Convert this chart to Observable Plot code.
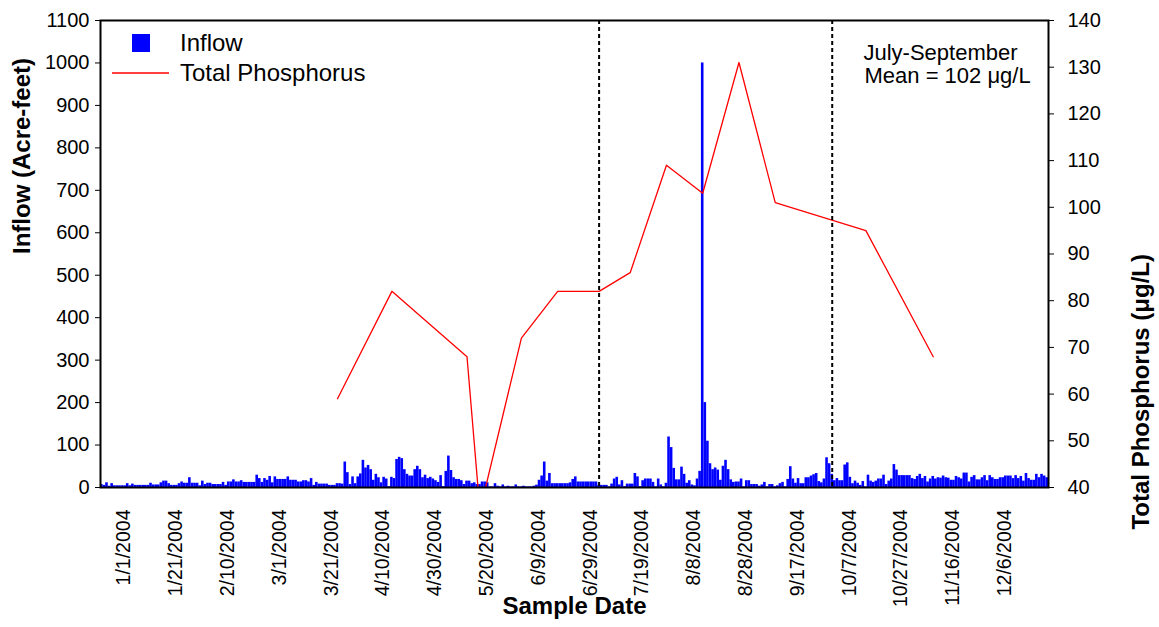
<!DOCTYPE html>
<html>
<head>
<meta charset="utf-8">
<script src="https://cdn.jsdelivr.net/npm/d3@7"></script>
<script src="https://cdn.jsdelivr.net/npm/@observablehq/plot@0.6"></script>
<style>
  html, body { margin: 0; padding: 0; background: #fff; }
</style>
</head>
<body>
<div id="chart"></div>
<script>
// ---------- DATA ----------
// Daily inflow (acre-feet), first bar on 12/21/2003
const inflowStart = "12/21/2003";
const inflowDec2003 = [7, 5, 11, 3, 9, 4, 4, 4, 4, 4, 9];
const inflowJan = [4, 8, 5, 5, 5, 5, 5, 5, 10, 6, 6, 6, 11, 15, 15, 9, 5, 5, 5, 9, 13, 10, 10, 23, 10, 10, 10, 4, 15, 7, 10];
const inflowFeb = [10, 7, 7, 7, 7, 12, 5, 13, 13, 18, 13, 13, 16, 12, 12, 12, 12, 12, 29, 21, 12, 21, 17, 26, 11, 25, 19, 19, 19];
const inflowMar = [19, 25, 17, 17, 17, 13, 13, 16, 16, 13, 21, 5, 12, 8, 8, 8, 8, 5, 5, 5, 9, 9, 8, 60, 35, 7, 25, 9, 25, 32, 64];
const inflowApr = [46, 52, 42, 17, 31, 23, 11, 24, 20, 2, 24, 21, 66, 71, 68, 42, 31, 27, 27, 42, 50, 42, 23, 29, 21, 24, 20, 16, 12, 28];
const inflowMay = [2, 38, 74, 40, 23, 19, 19, 16, 7, 15, 15, 9, 11, 7, 7, 13, 13, 11, 1.5, 1.5, 9, 3, 1.5, 6, 1.5, 3, 1.5, 1.5, 6, 1.5, 1.5];
const inflowJun = [3, 1.5, 1.5, 1.5, 3, 5.5, 17, 27, 60, 15, 33, 9, 9, 9, 9, 9, 9, 9, 11, 19, 25, 13, 13, 13, 13, 13, 13, 13, 13, 5];
const inflowJul = [5, 5, 5, 1.5, 8, 20, 24, 6, 16, 2, 8, 8, 8, 33, 25, 2, 16, 20, 20, 20, 12, 1.5, 20, 6, 1.5, 10, 119, 94, 45, 18, 18];
const inflowAug = [48, 31, 10, 16, 6, 4, 20, 38, 1000, 200, 109, 56, 42, 46, 41, 17, 50, 64, 42, 18, 12, 13, 13, 20, 1.5, 16, 16, 7, 7, 7, 3];
const inflowSep = [6, 12, 1.5, 7, 7, 1.5, 4, 9, 12, 1.5, 19, 49, 20, 10, 21, 9, 9, 23, 23, 27, 30, 33, 14, 11, 20, 70, 56, 31, 16, 21];
const inflowOct = [16, 16, 53, 58, 24, 9, 15, 10, 5, 14, 1.5, 29, 15, 12, 15, 20, 20, 29, 7, 15, 20, 54, 41, 28, 28, 28, 28, 28, 21, 19, 26];
const inflowNov = [31, 21, 26, 13, 20, 26, 20, 23, 22, 27, 23, 22, 17, 17, 26, 23, 20, 34, 34, 13, 24, 28, 18, 18, 23, 28, 16, 28, 23, 19];
const inflowDec2004 = [19, 23, 23, 27, 27, 27, 21, 28, 21, 26, 15, 33, 21, 17, 17, 31, 23, 31, 27, 23];

// Total phosphorus samples (µg/L)
const tpDates = ["3/21/2004", "4/11/2004", "5/10/2004", "5/15/2004", "5/31/2004", "6/14/2004", "6/30/2004",
                 "7/12/2004", "7/26/2004", "8/9/2004", "8/23/2004", "9/6/2004", "10/11/2004", "11/6/2004"];
const tpValues = [59, 82, 68, 35, 72, 82, 82, 86, 109, 103, 131, 101, 95, 68];

// July-September period bounds (dashed lines)
const periodBounds = ["6/30/2004", "9/28/2004"];

// Axis ticks
const xTickLabels = ["1/1/2004", "1/21/2004", "2/10/2004", "3/1/2004", "3/21/2004", "4/10/2004", "4/30/2004",
                     "5/20/2004", "6/9/2004", "6/29/2004", "7/19/2004", "8/8/2004", "8/28/2004", "9/17/2004",
                     "10/7/2004", "10/27/2004", "11/16/2004", "12/6/2004"];
const inflowTicks = [0, 100, 200, 300, 400, 500, 600, 700, 800, 900, 1000, 1100];
const tpTicks = [40, 50, 60, 70, 80, 90, 100, 110, 120, 130, 140];

// ---------- BUILD ----------
const parse = d3.utcParse("%m/%d/%Y");
const tpMin = 40, tpMax = 140, inflowMax = 1100;
const tpToY = v => (v - tpMin) * inflowMax / (tpMax - tpMin);

const inflowAll = [].concat(inflowDec2003, inflowJan, inflowFeb, inflowMar, inflowApr, inflowMay,
  inflowJun, inflowJul, inflowAug, inflowSep, inflowOct, inflowNov, inflowDec2004);
const start = parse(inflowStart);
const inflowData = inflowAll.map((v, i) => {
  const date = d3.utcDay.offset(start, i);
  return { date, x1: d3.utcHour.offset(date, -12), x2: d3.utcHour.offset(date, 12), value: v };
});
const xDomain = [inflowData[0].x1, inflowData[inflowData.length - 1].x2];

const tpData = tpDates.map((d, i) => ({ date: parse(d), y: tpToY(tpValues[i]) }));
const tickData = xTickLabels.map(s => ({ date: parse(s), label: s }));

const FONT = "Arial, 'Liberation Sans', Helvetica, sans-serif";

const chart = Plot.plot({
  width: 1159,
  height: 627,
  marginLeft: 100,
  marginRight: 111,
  marginTop: 20,
  marginBottom: 140,
  style: { fontFamily: FONT, color: "black", background: "white", overflow: "visible" },
  x: { type: "utc", domain: xDomain, axis: null },
  y: { domain: [0, inflowMax], axis: null },
  marks: [
    Plot.rectY(inflowData, { x1: "x1", x2: "x2", y: "value", fill: "#0000ff" }),
    Plot.line(tpData, { x: "date", y: "y", stroke: "#ff0000", strokeWidth: 1.3, clip: true }),
    Plot.ruleX(periodBounds.map(parse), { stroke: "black", strokeWidth: 2, strokeDasharray: "4,3" }),
    Plot.frame({ stroke: "black", strokeWidth: 2 }),
    Plot.axisY(inflowTicks, { anchor: "left", tickSize: 5, tickPadding: 6, fontSize: 20, label: null, tickFormat: d => String(d) }),
    Plot.axisY(tpTicks.map(tpToY), { anchor: "right", tickSize: 5, tickPadding: 14, fontSize: 20, label: null,
      tickFormat: v => String(Math.round(v * (tpMax - tpMin) / inflowMax + tpMin)) }),
    Plot.text(tickData, { x: "date", text: "label", frameAnchor: "bottom", rotate: -90, textAnchor: "end",
      dy: 22, fontSize: 19.5, fill: "black" }),
    Plot.text(["Sample Date"], { frameAnchor: "bottom", dy: 126, fontSize: 24, fontWeight: "bold", fill: "black" }),
    Plot.text(["Inflow (Acre-feet)"], { frameAnchor: "left", rotate: -90, dx: -78, fontSize: 24, fontWeight: "bold", fill: "black" }),
    Plot.text(["Total Phosphorus (\u03bcg/L)"], { frameAnchor: "right", rotate: -90, dx: 93, fontSize: 24, fontWeight: "bold", fill: "black" }),
    Plot.text(["July-September"], { frameAnchor: "top-left", textAnchor: "start", dx: 763, dy: 24, fontSize: 22, fill: "black" }),
    Plot.text(["Mean = 102 \u03bcg/L"], { frameAnchor: "top-left", textAnchor: "start", dx: 764, dy: 47, fontSize: 22, fill: "black" })
  ]
});

// Legend inside plot area
const svg = d3.select(chart);
const lg = svg.append("g").attr("font-family", FONT).attr("font-size", 24).attr("fill", "black")
  .attr("text-anchor", "start");
lg.append("rect").attr("x", 132).attr("y", 34).attr("width", 18).attr("height", 18).attr("fill", "#0000ff");
lg.append("text").attr("x", 180).attr("y", 43).attr("dy", "0.35em").attr("text-anchor", "start").text("Inflow");
lg.append("line").attr("x1", 112).attr("x2", 169).attr("y1", 73).attr("y2", 73)
  .attr("stroke", "#ff0000").attr("stroke-width", 1.3);
lg.append("text").attr("x", 180).attr("y", 73).attr("dy", "0.35em").attr("text-anchor", "start").text("Total Phosphorus");

document.getElementById("chart").appendChild(chart);
</script>
</body>
</html>
